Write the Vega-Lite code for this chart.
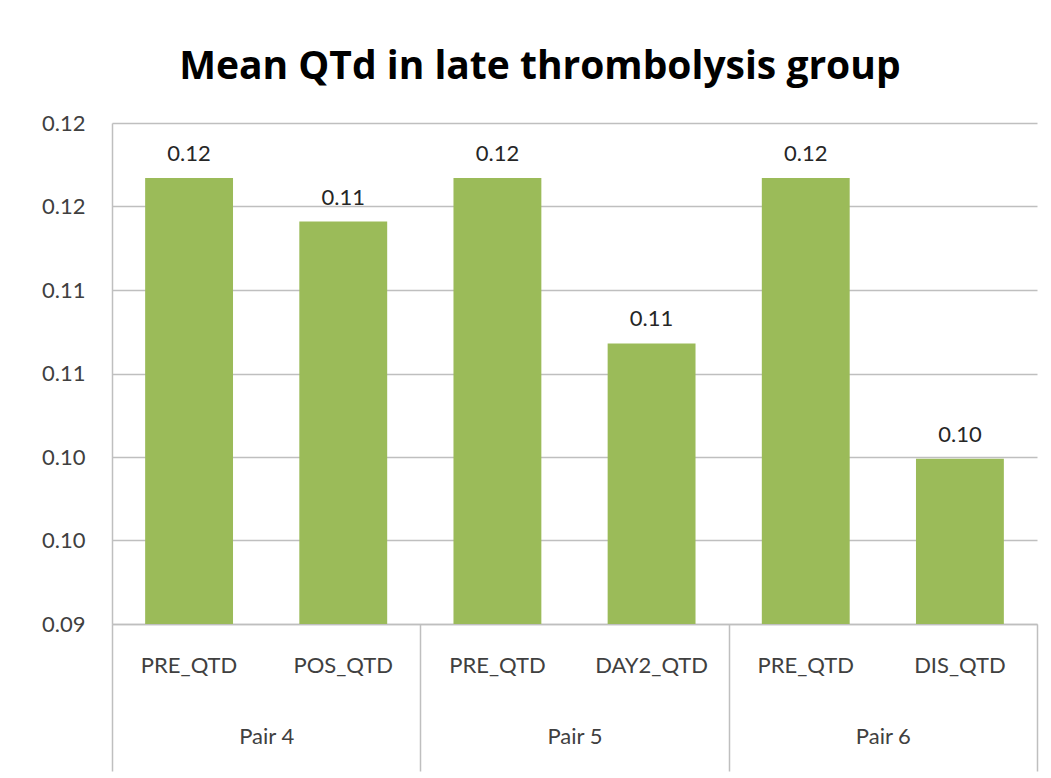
{
  "$schema": "https://vega.github.io/schema/vega-lite/v6.json",
  "width": 925,
  "height": 501,
  "padding": {"left": 12, "top": 48, "right": 14, "bottom": 5},
  "autosize": {"type": "pad"},
  "background": "white",
  "config": {
    "view": {"stroke": null},
    "font": "Lato",
    "axis": {"labelFont": "Lato", "labelColor": "#404040"}
  },
  "title": {
    "text": "Mean QTd in late thrombolysis group",
    "font": "Open Sans",
    "fontSize": 39,
    "fontWeight": "bold",
    "color": "#000000",
    "anchor": "middle",
    "frame": "bounds",
    "offset": 25,
    "dx": 15
  },
  "data": {
    "values": [
      {"key": "Pair 4|PRE_QTD", "pair": "Pair 4", "bar": "PRE_QTD", "value": 0.1167},
      {"key": "Pair 4|POS_QTD", "pair": "Pair 4", "bar": "POS_QTD", "value": 0.1141},
      {"key": "Pair 5|PRE_QTD", "pair": "Pair 5", "bar": "PRE_QTD", "value": 0.1167},
      {"key": "Pair 5|DAY2_QTD", "pair": "Pair 5", "bar": "DAY2_QTD", "value": 0.1068},
      {"key": "Pair 6|PRE_QTD", "pair": "Pair 6", "bar": "PRE_QTD", "value": 0.1167},
      {"key": "Pair 6|DIS_QTD", "pair": "Pair 6", "bar": "DIS_QTD", "value": 0.0999}
    ]
  },
  "layer": [
    {
      "layer": [
        {
          "mark": {"type": "bar", "color": "#9BBB59"},
          "encoding": {
            "x": {
              "field": "key",
              "type": "nominal",
              "sort": null,
              "scale": {"paddingInner": 0.43, "paddingOuter": 0.215},
              "axis": {
                "title": null,
                "orient": "bottom",
                "labelExpr": "split(datum.value, '|')[1]",
                "labelAngle": 0,
                "labelFontSize": 22,
                "labelPadding": 31,
                "ticks": false,
                "domain": true,
                "domainColor": "#BFBFBF",
                "domainWidth": 1.5,
                "grid": false,
                "maxExtent": 147,
                "minExtent": 147
              }
            },
            "y": {
              "field": "value",
              "type": "quantitative",
              "scale": {"domain": [0.09, 0.12], "zero": false, "nice": false},
              "axis": {
                "title": null,
                "values": [0.09, 0.095, 0.1, 0.105, 0.11, 0.115, 0.12],
                "labelExpr": "format(datum.value + 0.000001, '.2f')",
                "labelFontSize": 22,
                "labelPadding": 27,
                "ticks": false,
                "domain": true,
                "domainColor": "#BFBFBF",
                "domainWidth": 1.5,
                "grid": true,
                "gridColor": "#BFBFBF",
                "gridWidth": 1.5,
                "minExtent": 100,
                "maxExtent": 100
              }
            },
            "y2": {"datum": 0.09}
          }
        },
        {
          "mark": {"type": "text", "dy": -24, "fontSize": 22, "color": "#262626", "font": "Lato"},
          "encoding": {
            "x": {"field": "key", "type": "nominal", "sort": null},
            "y": {"field": "value", "type": "quantitative"},
            "text": {"field": "value", "type": "quantitative", "format": ".2f"}
          }
        }
      ]
    },
    {
      "mark": {"type": "point", "opacity": 0},
      "encoding": {
        "x": {
          "field": "pair",
          "type": "nominal",
          "sort": null,
          "scale": {"paddingInner": 0, "paddingOuter": 0},
          "axis": {
            "title": null,
            "orient": "bottom",
            "offset": 0,
            "labelAngle": 0,
            "labelFontSize": 22,
            "labelPadding": -45,
            "domain": false,
            "ticks": true,
            "tickBand": "extent",
            "tickSize": 147,
            "tickColor": "#BFBFBF",
            "tickWidth": 1.5,
            "grid": false,
            "maxExtent": 147,
            "minExtent": 147
          }
        },
        "y": {"field": "value", "type": "quantitative"}
      }
    }
  ],
  "resolve": {"scale": {"x": "independent"}}
}
